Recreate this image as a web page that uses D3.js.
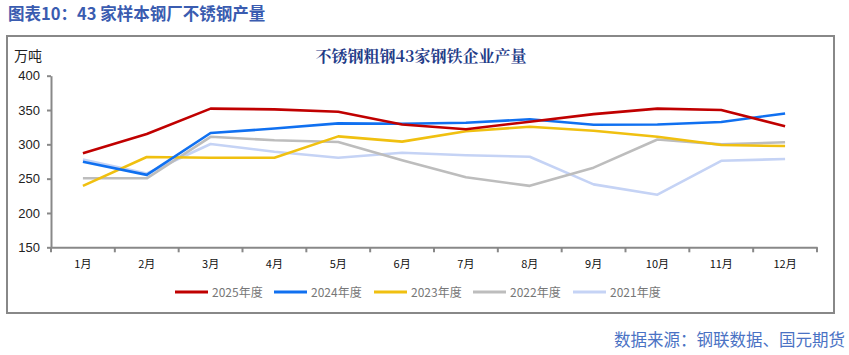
<!DOCTYPE html>
<html><head><meta charset="utf-8">
<script src="https://cdn.jsdelivr.net/npm/d3@7"></script>
<style>body{margin:0;background:#fff;}svg{display:block;}</style>
</head><body>
<svg id="c" width="849" height="355"></svg>
<script>
const months = ["1月","2月","3月","4月","5月","6月","7月","8月","9月","10月","11月","12月"];
const yTicks = [150,200,250,300,350,400];
const seriesNames = ["2025年度","2024年度","2023年度","2022年度","2021年度"];
const seriesColors = ["#C00000","#1070F0","#F0C010","#BDBDBD","#C5D3F5"];
const s2025 = [287,315,352,351,347.5,329,322,333,344,352,350,326.5];
const s2024 = [274.7,255.5,316.5,323,330.5,330,331.5,336.5,328.6,329,332.5,345];
const s2023 = [239.5,281.5,280.5,280.5,311.6,304,319,325.6,319.8,311,299,297.5];
const s2022 = [250.5,250.5,311,306,303.4,277,252,239.5,266,307,300,303];
const s2021 = [278,257.5,300.5,289.3,280.5,287.8,284,282,241.7,226.6,276,278.6];
const seriesData = [s2025,s2024,s2023,s2022,s2021];

const svg = d3.select("#c");
const x = d3.scaleBand().domain(months).range([51,817]);
const y = d3.scaleLinear().domain([150,400]).range([247.3,75.7]);

// header
svg.append("text").attr("x",8).attr("y",20).attr("fill","#3A5CB0")
  .attr("font-family","Noto Sans CJK SC").attr("font-weight","bold").attr("font-size",16.5)
  .text("图表10：43 家样本钢厂不锈钢产量");
// frame
svg.append("rect").attr("x",7).attr("y",36).attr("width",827).attr("height",277)
  .attr("fill","none").attr("stroke","#888").attr("stroke-width",2);
// title
svg.append("text").attr("x",421).attr("y",62).attr("text-anchor","middle").attr("fill","#1F3C88")
  .attr("font-family","Noto Serif CJK SC, Noto Sans CJK SC").attr("font-weight","bold").attr("font-size",16)
  .text("不锈钢粗钢43家钢铁企业产量");
// unit
svg.append("text").attr("x",14).attr("y",61).attr("fill","#222")
  .attr("font-family","Noto Sans CJK SC").attr("font-size",14).text("万吨");

// y axis
const ya = svg.append("g").attr("transform","translate(51,0)")
  .call(d3.axisLeft(y).tickValues(yTicks).tickSize(4).tickPadding(7).tickSizeOuter(0));
ya.select(".domain").attr("stroke","#888").attr("stroke-width",2);
ya.selectAll(".tick line").attr("stroke","#888").attr("stroke-width",2);
ya.selectAll("text").attr("font-family","Liberation Sans, Arial").attr("font-size",13).attr("fill","#222");

// x axis
const xa = svg.append("g").attr("transform","translate(0,247.3)")
  .call(d3.axisBottom(x).tickSize(0).tickPadding(13));
xa.select(".domain").attr("stroke","#888").attr("stroke-width",2);
xa.selectAll("text").attr("font-family","Noto Sans CJK SC").attr("font-size",11).attr("fill","#111");
const edges = d3.range(13).map(i => 51 + i*x.step());
xa.selectAll(".edge").data(edges).enter().append("line").attr("class","edge")
  .attr("x1",d=>d).attr("x2",d=>d).attr("y1",0).attr("y2",5).attr("stroke","#888").attr("stroke-width",2);

// lines (draw back to front)
const line = d3.line().x((d,i)=>x(months[i])+x.bandwidth()/2).y(d=>y(d));
for (let k = seriesData.length-1; k >= 0; k--) {
  svg.append("path").datum(seriesData[k]).attr("d",line).attr("fill","none")
    .attr("stroke",seriesColors[k]).attr("stroke-width",2.6).attr("stroke-linejoin","round");
}

// legend
const legX = [175,274,374,473,573];
seriesNames.forEach((n,k)=>{
  const g = svg.append("g");
  g.append("line").attr("x1",legX[k]).attr("x2",legX[k]+33).attr("y1",292).attr("y2",292)
    .attr("stroke",seriesColors[k]).attr("stroke-width",3);
  g.append("text").attr("x",legX[k]+37).attr("y",296.5).attr("fill","#777")
    .attr("font-family","Noto Sans CJK SC").attr("font-size",12).text(n);
});

// source
svg.append("text").attr("x",845).attr("y",346).attr("text-anchor","end").attr("fill","#4A72C4")
  .attr("font-family","Noto Sans CJK SC").attr("font-size",16.5).text("数据来源：钢联数据、国元期货");
</script>
</body></html>
